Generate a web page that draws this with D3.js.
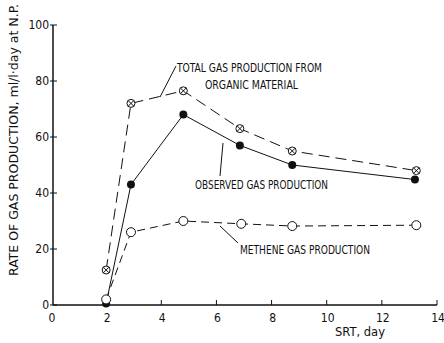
<!DOCTYPE html>
<html>
<head>
<meta charset="utf-8">
<script src="https://cdn.jsdelivr.net/npm/d3@7"></script>
<style>
  body { margin: 0; background: #fff; }
  svg text { font-family: "DejaVu Sans Condensed", "DejaVu Sans", sans-serif; font-stretch: condensed; fill: #111; }
</style>
</head>
<body>
<svg id="chart" width="444" height="343"></svg>
<script>
// data
const srtTotal = [2, 2.9, 4.8, 6.85, 8.75, 13.25];
const totalGas = [12.5, 72, 76.5, 63, 55, 48];
const srtObserved = [2, 2.9, 4.8, 6.85, 8.75, 13.2];
const observedGas = [0.5, 43, 68, 57, 50, 44.8];
const srtMethane = [2, 2.9, 4.8, 6.9, 8.75, 13.25];
const methaneGas = [2, 26, 30, 29, 28.2, 28.5];
const xTicks = [0, 2, 4, 6, 8, 10, 12, 14];
const yTicks = [0, 20, 40, 60, 80, 100];

const svg = d3.select("#chart");
const x = d3.scaleLinear().domain([0, 14]).range([51, 437]);
const y = d3.scaleLinear().domain([0, 100]).range([305, 25]);

// squeeze text to the condensed look of the original lettering
function label(g, str, px, py, len, anchor) {
  return g.append("text").attr("x", px).attr("y", py)
    .attr("text-anchor", anchor || "start").attr("font-size", 12)
    .attr("textLength", len).attr("lengthAdjust", "spacingAndGlyphs")
    .text(str);
}

// axes
svg.append("line").attr("x1", x(0) + 2).attr("x2", x(14)).attr("y1", y(0)).attr("y2", y(0))
  .attr("stroke", "#111").attr("stroke-width", 1.5);
svg.append("line").attr("x1", 53).attr("x2", 53).attr("y1", y(0)).attr("y2", y(100))
  .attr("stroke", "#111").attr("stroke-width", 1.5);

svg.selectAll(".xt").data(xTicks.slice(1)).enter().append("line")
  .attr("x1", d => x(d)).attr("x2", d => x(d))
  .attr("y1", y(0)).attr("y2", y(0) - 5)
  .attr("stroke", "#111").attr("stroke-width", 1);
svg.selectAll(".xl").data(xTicks).enter().append("text")
  .attr("x", d => x(d) + 1).attr("y", 322)
  .attr("text-anchor", "middle").attr("font-size", 12)
  .text(d => d);

svg.selectAll(".yt").data(yTicks).enter().append("line")
  .attr("x1", 50).attr("x2", 57)
  .attr("y1", d => y(d)).attr("y2", d => y(d))
  .attr("stroke", "#111").attr("stroke-width", 1);
svg.selectAll(".yl").data(yTicks).enter().append("text")
  .attr("x", 49).attr("y", d => y(d) + 4)
  .attr("text-anchor", "end").attr("font-size", 12)
  .text(d => d);

label(svg, "SRT, day", 360, 336, 50, "middle");
label(svg.append("g").attr("transform", "translate(18,140) rotate(-90)"),
  "RATE OF GAS PRODUCTION, ml/l·day at N.P.", 0, 0, 272, "middle");

// series
const line = d3.line().x(d => x(d[0])).y(d => y(d[1]));
const totalPts = d3.zip(srtTotal, totalGas);
const obsPts = d3.zip(srtObserved, observedGas);
const methPts = d3.zip(srtMethane, methaneGas);

svg.append("path").datum(totalPts).attr("d", line).attr("fill", "none")
  .attr("stroke", "#111").attr("stroke-width", 1).attr("stroke-dasharray", "11,6");
svg.append("path").datum(obsPts).attr("d", line).attr("fill", "none")
  .attr("stroke", "#111").attr("stroke-width", 1);
svg.append("path").datum(methPts).attr("d", line).attr("fill", "none")
  .attr("stroke", "#111").attr("stroke-width", 1).attr("stroke-dasharray", "8,5");

// markers
const r = 4;
const tg = svg.selectAll(".tm").data(totalPts).enter().append("g")
  .attr("transform", d => `translate(${x(d[0])},${y(d[1])})`);
tg.append("circle").attr("r", r).attr("fill", "#fff").attr("stroke", "#111").attr("stroke-width", 1);
tg.append("path").attr("d", `M${-r * 0.7},${-r * 0.7}L${r * 0.7},${r * 0.7}M${-r * 0.7},${r * 0.7}L${r * 0.7},${-r * 0.7}`)
  .attr("stroke", "#111").attr("stroke-width", 1);

svg.selectAll(".om").data(obsPts).enter().append("circle")
  .attr("cx", d => x(d[0])).attr("cy", d => y(d[1])).attr("r", r)
  .attr("fill", "#111");

svg.selectAll(".mm").data(methPts).enter().append("circle")
  .attr("cx", d => x(d[0])).attr("cy", d => y(d[1])).attr("r", r + 0.5)
  .attr("fill", "#fff").attr("stroke", "#111").attr("stroke-width", 1);

// annotations
const ann = svg.append("g");
label(ann, "TOTAL GAS PRODUCTION FROM", 177, 72, 145);
label(ann, "ORGANIC MATERIAL", 205, 89, 93);
label(ann, "OBSERVED GAS PRODUCTION", 195, 189, 133);
label(ann, "METHENE GAS PRODUCTION", 240, 254, 130);

const leader = [[176, 66, 160, 97], [223, 143, 220, 176], [220, 226, 238, 243]];
ann.selectAll(".ld").data(leader).enter().append("line")
  .attr("x1", d => d[0]).attr("y1", d => d[1]).attr("x2", d => d[2]).attr("y2", d => d[3])
  .attr("stroke", "#111").attr("stroke-width", 1);
</script>
</body>
</html>
